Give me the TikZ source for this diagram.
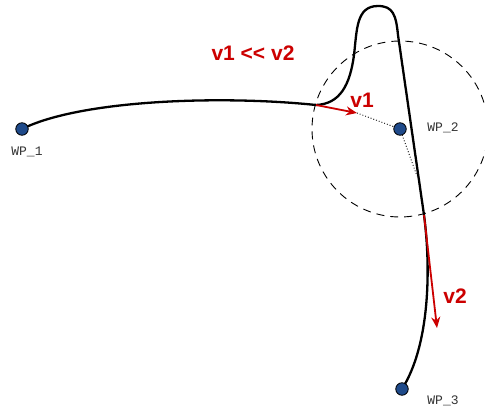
\documentclass[tikz,border=0pt]{standalone}
\usepackage{fontspec}
\setmainfont{Liberation Sans}
\setmonofont{Liberation Mono}
\usetikzlibrary{arrows.meta}
\definecolor{wpblue}{HTML}{1F4A8A}
\definecolor{vred}{HTML}{CC0000}
\definecolor{lblgray}{HTML}{333333}
\tikzset{
  wp/.style={circle, draw=black, line width=0.8pt, fill=wpblue, minimum size=12.5pt, inner sep=0pt},
  wplabel/.style={font=\ttfamily\fontsize{13}{13}\selectfont, text=lblgray, inner sep=0pt},
  path/.style={line width=2.3pt, black},
  vec/.style={vred, line width=1.8pt, -{Stealth[length=11pt,width=9pt]}},
  vlabel/.style={text=vred, font=\bfseries\fontsize{21}{21}\selectfont, inner sep=0pt},
  guide/.style={black, line width=0.9pt, dotted},
  radius circle/.style={black, line width=0.9pt, dash pattern=on 8pt off 6pt}
}
\begin{document}
\begin{tikzpicture}[x=1pt,y=-1pt]
\useasboundingbox (0,0) rectangle (485,412);
\fill[white] (0,0) rectangle (485,412);
% waypoint positions
\coordinate (p1) at (22,129);
\coordinate (p2) at (400,129);
\coordinate (p3) at (402,389);
\coordinate (a1) at (316,105);
\coordinate (t1) at (357,113);
\coordinate (a2) at (424,215);
\coordinate (t2) at (437,328);
\coordinate (m2) at (417,176);
% acceptance circle
\draw[radius circle] (p2) circle[radius=88];
% guide lines
\draw[guide] (t1) -- (p2) -- (m2);
% flown path
\draw[path] (p1) .. controls (80,100) and (220,95) .. (a1)
  .. controls (340,104) and (350,85) .. (354,55)
  .. controls (357,30) and (356,6) .. (378,6)
  .. controls (393,6) and (396,15) .. (398,35)
  -- (a2)
  .. controls (431,268) and (430,345) .. (p3);
% velocity vectors
\draw[vec] (a1) -- (t1);
\draw[vec] (a2) -- (t2);
% waypoints
\node[wp] (wp1) at (p1) {};
\node[wp] (wp2) at (p2) {};
\node[wp] (wp3) at (p3) {};
\node[wplabel] (l1) at (27,152) {WP\_1};
\node[wplabel] (l2) at (443,128) {WP\_2};
\node[wplabel] (l3) at (443,401) {WP\_3};
% labels
\node[vlabel] (v1) at (362,100) {v1};
\node[vlabel] (v2) at (455,296) {v2};
\node[vlabel] (cmp) at (253,53) {v1 <{}< v2};
\end{tikzpicture}
\end{document}
